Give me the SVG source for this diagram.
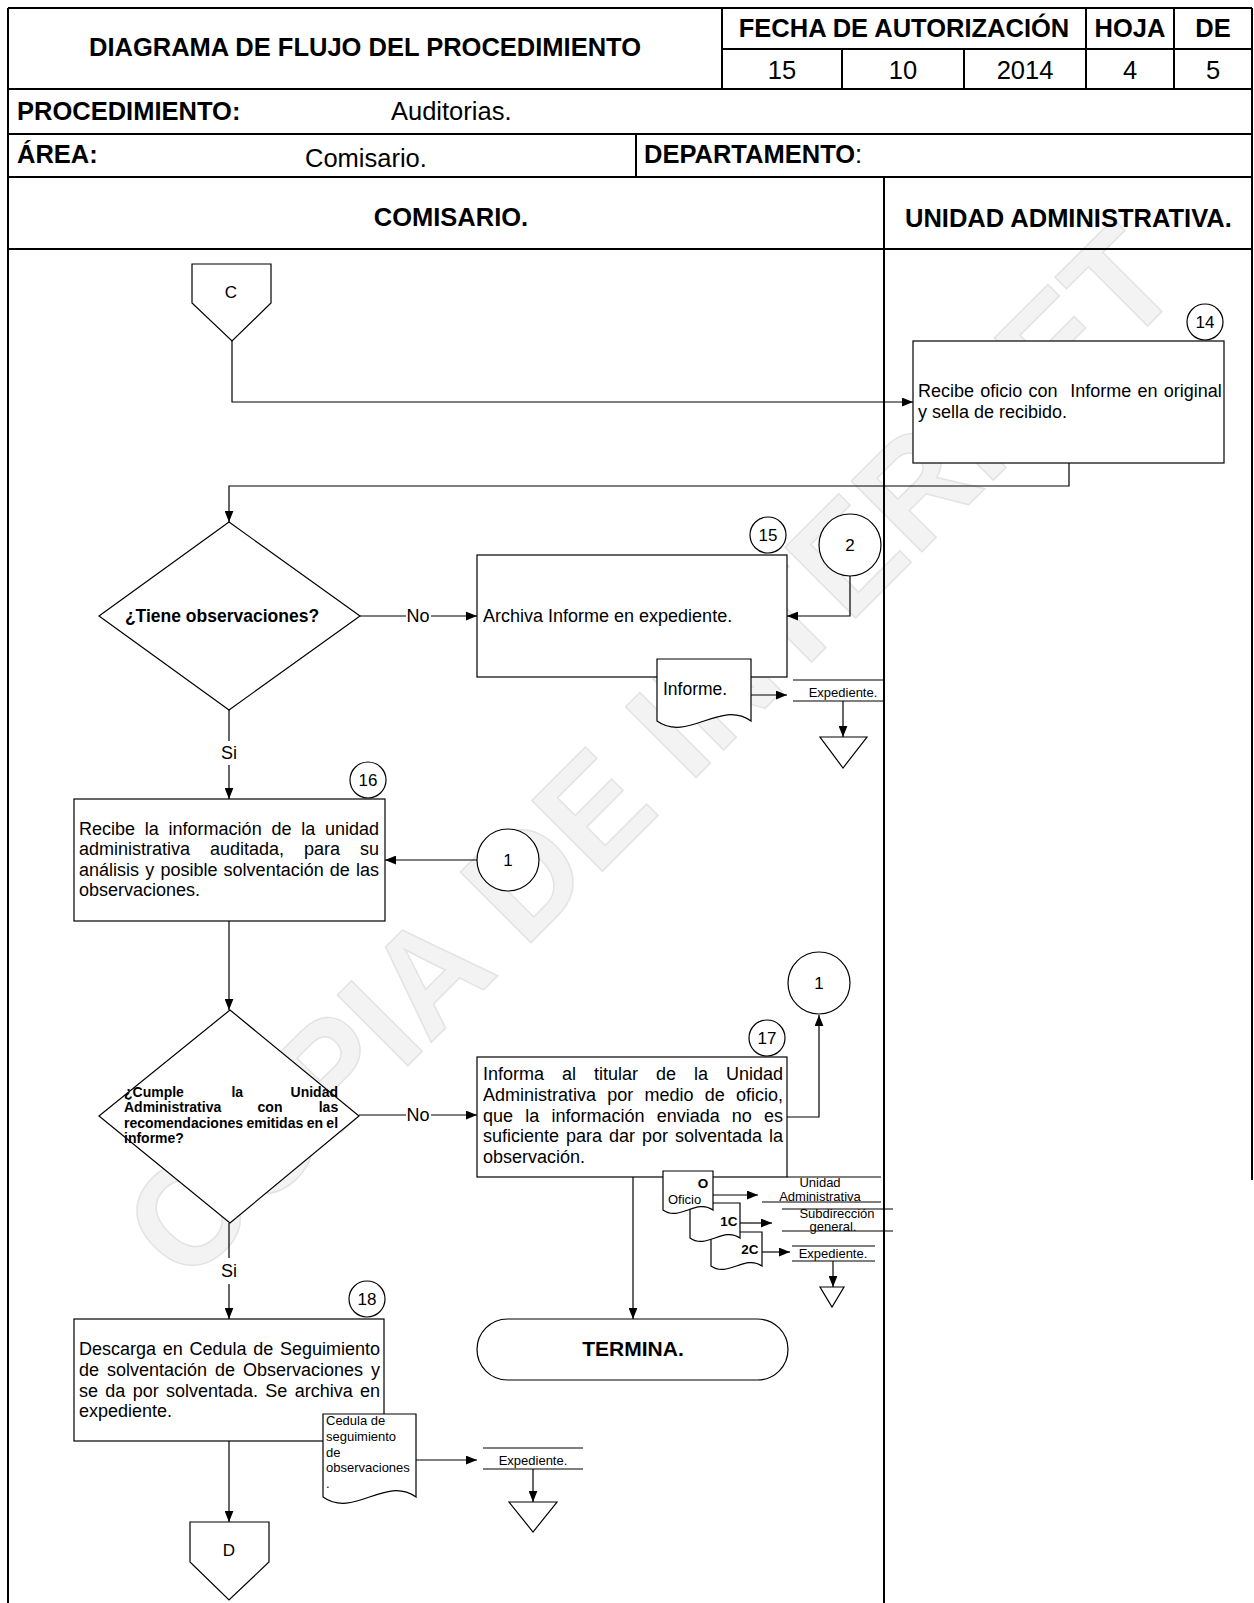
<svg xmlns="http://www.w3.org/2000/svg" width="1254" height="1603" viewBox="0 0 1254 1603">
<style>
text{font-family:"Liberation Sans",Arial,sans-serif;fill:#000}
.hb{font-weight:bold;font-size:25.5px}
.hr{font-size:25.5px}
.bx{font-size:18px}
.db{font-weight:bold;font-size:14px}
.sm{font-size:13px}
.smb{font-size:13.5px;font-weight:bold}
.num{font-size:17px}
.grid{fill:none;stroke:#000;stroke-width:2}
.shape{fill:#fff;stroke:#000;stroke-width:1.2}
.conn{fill:none;stroke:#000;stroke-width:1.2}
.ln{stroke:#000;stroke-width:1.2}
text.wm{font-family:"Liberation Sans",Arial,sans-serif;font-weight:bold;font-size:145px;fill:#f3f3f3;stroke:#e3e3e3;stroke-width:1.5}
</style>
<defs>
<marker id="ah" viewBox="0 0 10 8" refX="10" refY="4" markerWidth="11" markerHeight="9" orient="auto" markerUnits="userSpaceOnUse"><path d="M0,0 L10,4 L0,8 Z" fill="#000"/></marker>
</defs>
<rect width="1254" height="1603" fill="#fff"/>
<g id="watermark" transform="translate(649,751) rotate(-45)">
<text class="wm" x="0" y="52" text-anchor="middle" textLength="1412" lengthAdjust="spacingAndGlyphs">COPIA DE INTERNET</text>
</g>
<g id="header">
<path class="grid" d="M8,8 H1252 M8,8 V1603 M1252,8 V1180 M8,89 H1252 M722,49 H1252 M8,134 H1252 M8,177 H1252 M8,249 H1252 M722,8 V89 M842,49 V89 M964,49 V89 M1086,8 V89 M1174,8 V89 M636,134 V177 M884,177 V1603"/>
<text class="hb" x="365" y="56" text-anchor="middle">DIAGRAMA DE FLUJO DEL PROCEDIMIENTO</text>
<text class="hb" x="904" y="37" text-anchor="middle">FECHA DE AUTORIZACIÓN</text>
<text class="hb" x="1130" y="37" text-anchor="middle">HOJA</text>
<text class="hb" x="1213" y="37" text-anchor="middle">DE</text>
<text class="hr" x="782" y="79" text-anchor="middle">15</text>
<text class="hr" x="903" y="79" text-anchor="middle">10</text>
<text class="hr" x="1025" y="79" text-anchor="middle">2014</text>
<text class="hr" x="1130" y="79" text-anchor="middle">4</text>
<text class="hr" x="1213" y="79" text-anchor="middle">5</text>
<text class="hb" x="17" y="120">PROCEDIMIENTO:</text>
<text class="hr" x="391" y="120">Auditorias.</text>
<text class="hb" x="17" y="163">ÁREA:</text>
<text class="hr" x="305" y="167">Comisario.</text>
<text class="hb" x="644" y="163">DEPARTAMENTO<tspan font-weight="normal">:</tspan></text>
<text class="hb" x="451" y="226" text-anchor="middle">COMISARIO.</text>
<text class="hb" x="905" y="227">UNIDAD ADMINISTRATIVA.</text>
</g>
<g id="connectors">
<path class="conn" d="M232,341 V402 H913" marker-end="url(#ah)"/>
<path class="conn" d="M1069,463 V486 H229 V522" marker-end="url(#ah)"/>
<path class="conn" d="M360,616 H406"/>
<path class="conn" d="M431,616 H477" marker-end="url(#ah)"/>
<path class="conn" d="M850,576 V616 H787" marker-end="url(#ah)"/>
<path class="conn" d="M751,695 H787" marker-end="url(#ah)"/>
<path class="conn" d="M843,701 V737" marker-end="url(#ah)"/>
<path class="conn" d="M229,710 V741"/>
<path class="conn" d="M229,765 V799" marker-end="url(#ah)"/>
<path class="conn" d="M477,860 H385" marker-end="url(#ah)"/>
<path class="conn" d="M229,921 V1010" marker-end="url(#ah)"/>
<path class="conn" d="M359,1115 H406"/>
<path class="conn" d="M431,1115 H477" marker-end="url(#ah)"/>
<path class="conn" d="M787,1117 H819 V1015" marker-end="url(#ah)"/>
<path class="conn" d="M633,1177 V1319" marker-end="url(#ah)"/>
<path class="conn" d="M713,1195 H758" marker-end="url(#ah)"/>
<path class="conn" d="M740,1223 H772" marker-end="url(#ah)"/>
<path class="conn" d="M762,1252 H790" marker-end="url(#ah)"/>
<path class="conn" d="M833,1261 V1287" marker-end="url(#ah)"/>
<path class="conn" d="M229,1223 V1258"/>
<path class="conn" d="M229,1284 V1319" marker-end="url(#ah)"/>
<path class="conn" d="M229,1441 V1522" marker-end="url(#ah)"/>
<path class="conn" d="M416,1460 H477" marker-end="url(#ah)"/>
<path class="conn" d="M533,1469 V1502" marker-end="url(#ah)"/>
<text class="bx" x="418" y="622" text-anchor="middle">No</text>
<text class="bx" x="418" y="1121" text-anchor="middle">No</text>
<text class="bx" x="229" y="759" text-anchor="middle">Si</text>
<text class="bx" x="229" y="1277" text-anchor="middle">Si</text>
</g>
<g id="offpage-C">
<path class="shape" d="M192,264 H271 V303 L232,341 L192,303 Z"/>
<text class="num" x="231" y="298" text-anchor="middle">C</text>
</g>
<g id="step14">
<rect class="shape" x="913" y="341" width="311" height="122"/>
<text class="bx" x="918" y="397" xml:space="preserve" style="white-space:pre" word-spacing="1.28">Recibe oficio con  Informe en original</text>
<text class="bx" x="918" y="418">y sella de recibido.</text>
<circle class="shape" cx="1205" cy="322" r="18"/>
<text class="num" x="1205" y="328" text-anchor="middle">14</text>
</g>
<g id="decision1">
<path class="shape" d="M229,522 L360,616 L229,710 L99,616 Z"/>
<text x="222" y="622" text-anchor="middle" font-weight="bold" font-size="17.5">¿Tiene observaciones?</text>
</g>
<g id="step15">
<rect class="shape" x="477" y="555" width="310" height="122"/>
<text class="bx" x="483" y="622">Archiva Informe en expediente.</text>
<circle class="shape" cx="768" cy="535" r="18"/>
<text class="num" x="768" y="541" text-anchor="middle">15</text>
</g>
<g id="connector2">
<circle class="shape" cx="850" cy="545" r="31"/>
<text class="num" x="850" y="551" text-anchor="middle">2</text>
</g>
<g id="doc-informe">
<path class="shape" d="M657,659 H751 V721 C720,699 688,743 657,721 Z"/>
<text x="663" y="695" font-size="17.5">Informe.</text>
</g>
<g id="archivo-expediente1">
<line class="ln" x1="793" y1="680" x2="884" y2="680"/>
<line class="ln" x1="793" y1="701" x2="884" y2="701"/>
<text class="sm" x="843" y="697" text-anchor="middle">Expediente.</text>
<path class="shape" d="M820,737 H867 L843,768 Z"/>
</g>
<g id="step16">
<rect class="shape" x="74" y="799" width="311" height="122"/>
<text class="bx" x="79" y="835" word-spacing="4.78">Recibe la información de la unidad</text>
<text class="bx" x="79" y="855" word-spacing="14.97">administrativa auditada, para su</text>
<text class="bx" x="79" y="876" word-spacing="1.18">análisis y posible solventación de las</text>
<text class="bx" x="79" y="896">observaciones.</text>
<circle class="shape" cx="368" cy="780" r="18"/>
<text class="num" x="368" y="786" text-anchor="middle">16</text>
</g>
<g id="connector1-in">
<circle class="shape" cx="508" cy="860" r="31"/>
<text class="num" x="508" y="866" text-anchor="middle">1</text>
</g>
<g id="decision2">
<path class="shape" d="M230,1010 L359,1116 L230,1223 L99,1116 Z"/>
<text class="db" x="124" y="1097" word-spacing="43.6">¿Cumple la Unidad</text>
<text class="db" x="124" y="1112" word-spacing="32.4">Administrativa con las</text>
<text class="db" x="124" y="1128" word-spacing="-0.5">recomendaciones emitidas en el</text>
<text class="db" x="124" y="1143">informe?</text>
</g>
<g id="step17">
<rect class="shape" x="477" y="1057" width="310" height="120"/>
<text class="bx" x="483" y="1080" word-spacing="12.98">Informa al titular de la Unidad</text>
<text class="bx" x="483" y="1101" word-spacing="6.2">Administrativa por medio de oficio,</text>
<text class="bx" x="483" y="1122" word-spacing="7.18">que la información enviada no es</text>
<text class="bx" x="483" y="1142" word-spacing="1.98">suficiente para dar por solventada la</text>
<text class="bx" x="483" y="1163">observación.</text>
<circle class="shape" cx="767" cy="1038" r="18"/>
<text class="num" x="767" y="1044" text-anchor="middle">17</text>
</g>
<g id="connector1-out">
<circle class="shape" cx="819" cy="983" r="31"/>
<text class="num" x="819" y="989" text-anchor="middle">1</text>
</g>
<g id="docs-oficio">
<path class="shape" d="M711,1232 H762 V1266 C745,1254 728,1278 711,1266 Z"/>
<text class="smb" x="750" y="1254" text-anchor="middle">2C</text>
<path class="shape" d="M690,1203 H740 V1238 C723,1226 707,1250 690,1238 Z"/>
<text class="smb" x="729" y="1226" text-anchor="middle">1C</text>
<path class="shape" d="M663,1171 H713 V1210 C696,1198 680,1222 663,1210 Z"/>
<text class="smb" x="703" y="1188" text-anchor="middle">O</text>
<text class="sm" x="668" y="1204">Oficio</text>
</g>
<g id="destinos-oficio">
<line class="ln" x1="787" y1="1177" x2="881" y2="1177"/>
<line class="ln" x1="762" y1="1202" x2="881" y2="1202"/>
<text class="sm" x="820" y="1187" text-anchor="middle">Unidad</text>
<text class="sm" x="820" y="1201" text-anchor="middle">Administrativa</text>
<line class="ln" x1="782" y1="1209" x2="893" y2="1209"/>
<line class="ln" x1="782" y1="1231" x2="893" y2="1231"/>
<text class="sm" x="837" y="1218" text-anchor="middle">Subdirección</text>
<text class="sm" x="833" y="1231" text-anchor="middle">general.</text>
<line class="ln" x1="792" y1="1246" x2="875" y2="1246"/>
<line class="ln" x1="792" y1="1261" x2="875" y2="1261"/>
<text class="sm" x="833" y="1258" text-anchor="middle">Expediente.</text>
<path class="shape" d="M820,1287 H844 L832,1307 Z"/>
</g>
<g id="termina">
<rect class="shape" x="477" y="1319" width="311" height="61" rx="30.5" ry="30.5"/>
<text x="633" y="1356" text-anchor="middle" font-weight="bold" font-size="21">TERMINA.</text>
</g>
<g id="step18">
<rect class="shape" x="74" y="1319" width="310" height="122"/>
<text class="bx" x="79" y="1355" word-spacing="1.7">Descarga en Cedula de Seguimiento</text>
<text class="bx" x="79" y="1376" word-spacing="2.97">de solventación de Observaciones y</text>
<text class="bx" x="79" y="1397" word-spacing="2.3">se da por solventada. Se archiva en</text>
<text class="bx" x="79" y="1417">expediente.</text>
<circle class="shape" cx="367" cy="1299" r="18"/>
<text class="num" x="367" y="1305" text-anchor="middle">18</text>
</g>
<g id="doc-cedula">
<path class="shape" d="M323,1414 H416 V1497 C385,1475 354,1519 323,1497 Z"/>
<text class="sm" x="326" y="1425">Cedula de</text>
<text class="sm" x="326" y="1441">seguimiento</text>
<text class="sm" x="326" y="1457">de</text>
<text class="sm" x="326" y="1472">observaciones</text>
<text class="sm" x="326" y="1488">.</text>
</g>
<g id="archivo-expediente3">
<line class="ln" x1="483" y1="1448" x2="583" y2="1448"/>
<line class="ln" x1="483" y1="1469" x2="583" y2="1469"/>
<text class="sm" x="533" y="1465" text-anchor="middle">Expediente.</text>
<path class="shape" d="M509,1502 H557 L533,1532 Z"/>
</g>
<g id="offpage-D">
<path class="shape" d="M190,1522 H269 V1562 L229,1600 L190,1562 Z"/>
<text class="num" x="229" y="1556" text-anchor="middle">D</text>
</g>
</svg>
